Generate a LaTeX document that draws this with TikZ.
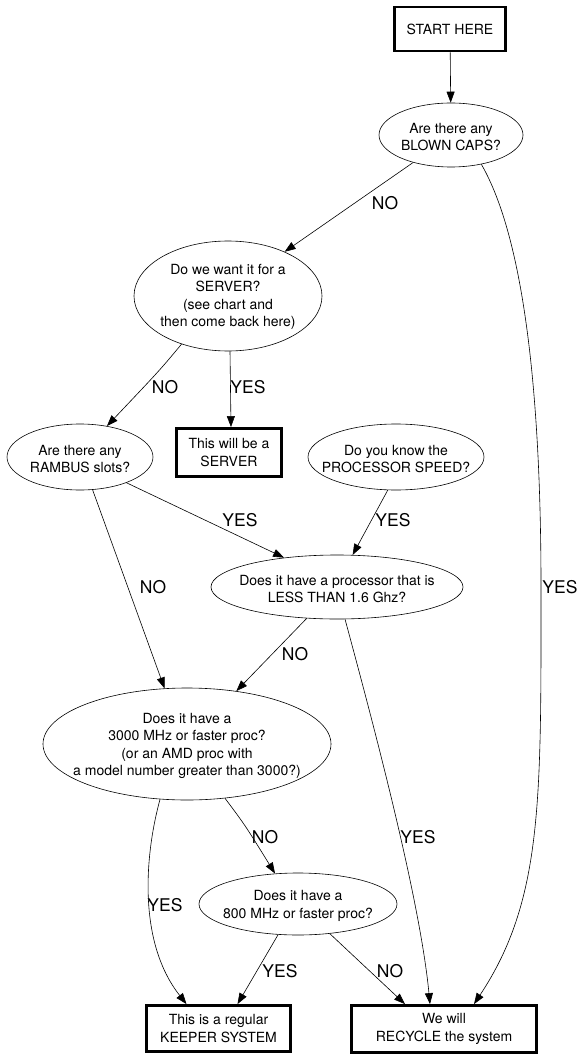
\documentclass[tikz,border=0pt]{standalone}
\usepackage{fontspec}
\setmainfont{TeX Gyre Heros}
\usetikzlibrary{shapes.geometric,arrows.meta}
\tikzset{
  ell/.style={draw, shape=ellipse, line width=0.6pt, inner sep=0pt},
  txt/.style={align=center, inner sep=0pt, font=\fontsize{14}{17.5}\selectfont},
  box/.style={draw, line width=2.8pt, inner sep=0pt, align=center, font=\fontsize{14}{17.5}\selectfont},
  arr/.style={line width=0.6pt, -{Triangle[length=11pt,width=8pt]}},
  lab/.style={font=\fontsize{17.5}{20}\selectfont, inner sep=0pt}
}
\begin{document}
\begin{tikzpicture}[x=1pt,y=-1pt]
\useasboundingbox (0,0) rectangle (587,1059);
% boxes
\node[box, minimum width=111, minimum height=44] (start) at (450,29) {START HERE};
\node[box, minimum width=105, minimum height=48] (sbox) at (229,452.5) {This will be a\\SERVER};
\node[box, minimum width=144, minimum height=46] (keeper) at (218.5,1028.5) {This is a regular\\KEEPER SYSTEM};
\node[box, minimum width=185, minimum height=47] (recycle) at (444,1029) {We will\\RECYCLE the system};
% ellipses
\node[ell, minimum width=144, minimum height=64] (blown) at (451,135) {};
\node[txt] (blownt) at (451,137) {Are there any\\BLOWN CAPS?};
\node[ell, minimum width=188, minimum height=110] (server) at (228,296) {};
\node[txt] (servert) at (228,297) {Do we want it for a\\SERVER?\\(see chart and\\then come back here)};
\node[ell, minimum width=146, minimum height=66] (rambus) at (80,457) {};
\node[txt] (rambust) at (80,459) {Are there any\\RAMBUS slots?};
\node[ell, minimum width=176, minimum height=66] (speed) at (396,457) {};
\node[txt] (speedt) at (396,459) {Do you know the\\PROCESSOR SPEED?};
\node[ell, minimum width=252, minimum height=64] (less) at (337,587) {};
\node[txt] (lesst) at (337,589) {Does it have a processor that is\\LESS THAN 1.6 Ghz?};
\node[ell, minimum width=288, minimum height=112] (fast) at (187,744) {};
\node[txt] (fastt) at (187,746) {Does it have a\\3000 MHz or faster proc?\\(or an AMD proc with\\a model number greater than 3000?)};
\node[ell, minimum width=198, minimum height=62] (mid) at (298,904) {};
\node[txt] (midt) at (298,906) {Does it have a\\800 MHz or faster proc?};
\coordinate (yesmid) at (541,587);
% connectors
\draw[arr] (start) -- (blown);
\draw[arr] (blown.216) -- (server.38);
\draw[arr] (blown.-44) .. controls (525,240) and (541,400) .. (yesmid)
  .. controls (541,800) and (543,900) .. ([xshift=30pt]recycle.north);
\draw[arr] ([xshift=2pt]server.south) -- ([xshift=2pt]sbox.north);
\draw[arr] (server.226) .. controls (160,370) .. (rambus.49);
\draw[arr] (rambus.-29) -- (less.151);
\draw[arr] (speed.256) -- (less.64);
\draw[arr] (rambus.-69) -- (fast.112);
\draw[arr] (less.226) -- (fast.47);
\draw[arr] (less.-76) .. controls (375,730) and (420,900) .. ([xshift=-14pt]recycle.north);
\draw[arr] (fast.244) .. controls (146,850) and (136,940) .. ([xshift=-32pt]keeper.north);
\draw[arr] (fast.-55) .. controls (245,825) .. (mid.127);
\draw[arr] (mid.237) -- ([xshift=19pt]keeper.north);
\draw[arr] (mid.-43) -- ([xshift=-39pt]recycle.north);
% labels
\node[lab] (l1) at (385,203) {NO};
\node[lab] (l2) at (560,587) {YES};
\node[lab] (l3) at (165,387) {NO};
\node[lab] (l4) at (248,387) {YES};
\node[lab] (l5) at (240,520) {YES};
\node[lab] (l6) at (393,520) {YES};
\node[lab] (l7) at (153,587) {NO};
\node[lab] (l8) at (295,654) {NO};
\node[lab] (l9) at (418,837) {YES};
\node[lab] (l10) at (265,837) {NO};
\node[lab] (l11) at (165,905) {YES};
\node[lab] (l12) at (280,971) {YES};
\node[lab] (l13) at (390,971) {NO};
\end{tikzpicture}
\end{document}
